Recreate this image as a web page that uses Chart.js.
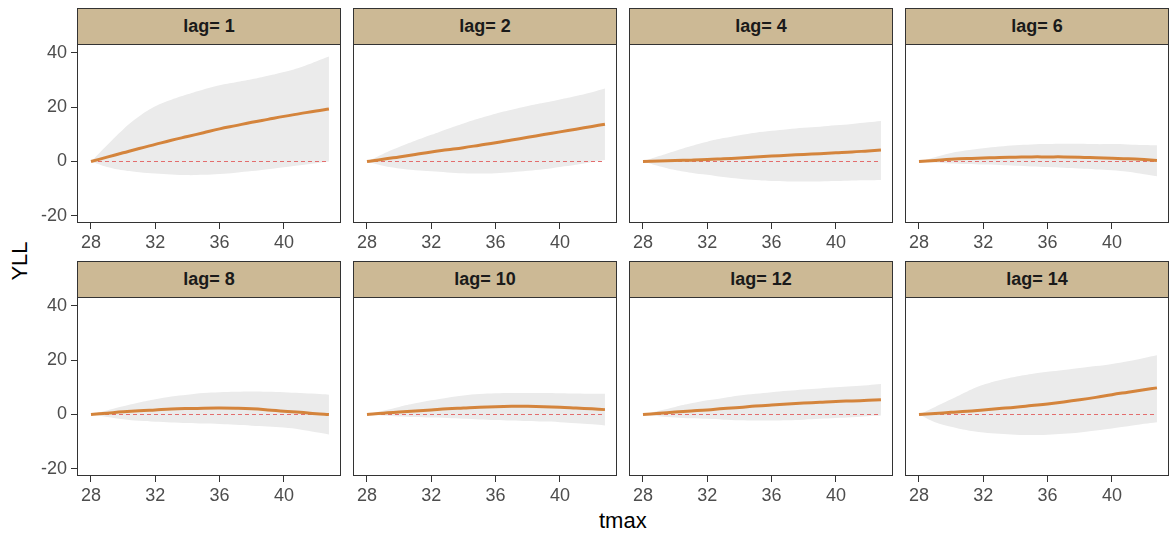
<!DOCTYPE html>
<html lang="en">
<head>
  <meta charset="UTF-8" />
  <title>YLL by tmax and lag</title>
  <script src="https://cdn.jsdelivr.net/npm/chart.js"></script>
  <style>
    * { box-sizing: border-box; }
    body {
      margin: 0;
      background: #fff;
      font-family: 'Liberation Sans', Arial, sans-serif;
    }
    #wrap { position: relative; width: 1171px; height: 538px; overflow: hidden; }
    .strip {
      position: absolute;
      background: #ccb995;
      border: 1px solid #333;
      color: #1a1a1a;
      font-weight: bold;
      font-size: 18px;
      display: flex;
      align-items: center;
      justify-content: center;
    }
    canvas { position: absolute; }
    .title { position: absolute; color: #000; font-size: 22px; white-space: nowrap; }
  </style>
</head>
<body>
  <div id="wrap">
    <div class="title" style="left:599px; top:508px;">tmax</div>
    <div class="title" style="left:20px; top:261px; transform: translate(-50%, -50%) rotate(-90deg);">YLL</div>
  </div>
  <script>
    // data
    const tmax = [28, 29, 30, 31, 32, 33, 34, 35, 36, 37, 38, 39, 40, 41, 42, 42.8];
    const lags = [1, 2, 4, 6, 8, 10, 12, 14];
    const xTicks = [28, 32, 36, 40];
    const yTicks = [-20, 0, 20, 40];
    const refLine = 0;

    const fitLag1 = [0, 1.6, 3.2, 4.8, 6.3, 7.8, 9.2, 10.6, 12.0, 13.2, 14.4, 15.5, 16.6, 17.6, 18.6, 19.3];
    const upperLag1 = [0, 6.0, 11.8, 16.6, 20.3, 22.7, 24.7, 26.5, 28.0, 29.1, 30.2, 31.5, 32.9, 34.6, 36.8, 38.6];
    const lowerLag1 = [0, -2.0, -3.2, -3.9, -4.4, -4.8, -5.0, -4.9, -4.6, -4.1, -3.5, -2.8, -2.1, -1.4, -0.6, 0];

    const fitLag2 = [0, 0.8, 1.7, 2.6, 3.5, 4.3, 5.1, 6.0, 6.9, 7.9, 8.9, 9.9, 10.9, 11.9, 12.9, 13.7];
    const upperLag2 = [0, 2.8, 5.3, 7.6, 9.8, 12.0, 14.0, 15.9, 17.6, 19.0, 20.4, 21.6, 22.8, 24.1, 25.5, 26.8];
    const lowerLag2 = [0, -1.6, -2.6, -3.2, -3.6, -4.0, -4.3, -4.4, -4.3, -3.9, -3.4, -2.8, -2.0, -1.2, -0.2, 0.6];

    const fitLag4 = [0, 0.15, 0.35, 0.5, 0.7, 1.0, 1.3, 1.65, 2.0, 2.3, 2.6, 2.9, 3.2, 3.5, 3.9, 4.2];
    const upperLag4 = [0, 2.0, 3.9, 5.7, 7.3, 8.6, 9.7, 10.6, 11.3, 11.9, 12.4, 12.8, 13.3, 13.8, 14.4, 14.9];
    const lowerLag4 = [0, -1.7, -3.1, -4.1, -4.9, -5.7, -6.3, -6.8, -7.2, -7.3, -7.3, -7.3, -7.2, -7.0, -6.9, -6.8];

    const fitLag6 = [0, 0.4, 0.8, 1.1, 1.3, 1.5, 1.6, 1.7, 1.7, 1.7, 1.6, 1.4, 1.2, 1.0, 0.7, 0.4];
    const upperLag6 = [0, 1.6, 3.1, 4.1, 4.9, 5.5, 6.0, 6.3, 6.4, 6.5, 6.5, 6.4, 6.4, 6.3, 6.1, 6.0];
    const lowerLag6 = [0, -0.4, -0.7, -0.9, -1.1, -1.3, -1.6, -1.8, -2.0, -2.3, -2.6, -2.9, -3.2, -3.8, -4.7, -5.4];

    const fitLag8 = [0, 0.5, 1.0, 1.4, 1.7, 2.0, 2.2, 2.35, 2.4, 2.3, 2.1, 1.7, 1.2, 0.8, 0.3, 0];
    const upperLag8 = [0, 1.5, 3.0, 4.4, 5.6, 6.6, 7.3, 7.9, 8.2, 8.4, 8.5, 8.4, 8.2, 7.9, 7.6, 7.3];
    const lowerLag8 = [0, -0.9, -1.7, -2.3, -2.7, -2.9, -3.1, -3.3, -3.5, -3.8, -4.1, -4.4, -4.8, -5.5, -6.5, -7.3];

    const fitLag10 = [0, 0.5, 0.9, 1.3, 1.7, 2.1, 2.4, 2.7, 2.9, 3.0, 3.0, 2.9, 2.7, 2.4, 2.1, 1.8];
    const upperLag10 = [0, 1.4, 2.8, 4.1, 5.2, 6.2, 7.0, 7.5, 7.8, 7.9, 7.9, 7.9, 7.8, 7.7, 7.6, 7.6];
    const lowerLag10 = [0, -0.4, -0.7, -0.9, -1.1, -1.3, -1.6, -1.8, -2.0, -2.2, -2.4, -2.6, -2.8, -3.2, -3.6, -4.0];

    const fitLag12 = [0, 0.45, 0.9, 1.3, 1.7, 2.2, 2.6, 3.1, 3.5, 3.85, 4.2, 4.5, 4.8, 5.0, 5.2, 5.4];
    const upperLag12 = [0, 1.4, 2.8, 4.1, 5.2, 6.1, 7.0, 7.6, 8.2, 8.7, 9.2, 9.6, 10.0, 10.4, 10.8, 11.2];
    const lowerLag12 = [0, -0.6, -1.1, -1.4, -1.6, -1.9, -2.1, -2.2, -2.2, -2.1, -1.9, -1.6, -1.3, -1.0, -0.6, -0.4];

    const fitLag14 = [0, 0.4, 0.8, 1.2, 1.7, 2.2, 2.7, 3.3, 3.9, 4.6, 5.4, 6.3, 7.3, 8.2, 9.1, 9.8];
    const upperLag14 = [0, 2.8, 5.6, 8.5, 10.9, 12.6, 13.9, 14.9, 15.7, 16.4, 17.1, 17.8, 18.6, 19.6, 20.8, 21.8];
    const lowerLag14 = [0, -2.8, -4.5, -5.8, -6.6, -7.1, -7.4, -7.5, -7.4, -7.1, -6.6, -5.9, -5.1, -4.3, -3.4, -2.8];

    const fits = [fitLag1, fitLag2, fitLag4, fitLag6, fitLag8, fitLag10, fitLag12, fitLag14];
    const uppers = [upperLag1, upperLag2, upperLag4, upperLag6, upperLag8, upperLag10, upperLag12, upperLag14];
    const lowers = [lowerLag1, lowerLag2, lowerLag4, lowerLag6, lowerLag8, lowerLag10, lowerLag12, lowerLag14];

    // panel geometry
    const colLeft = [77, 353, 629, 905];
    const rowTop = [8, 261];       // strip tops
    const panelW = 264, stripH = 37, plotH = 179;
    const yAxisW = 50, padTop = 15, padRight = 8, xAxisH = 40;
    const font = "'Liberation Sans', Arial, sans-serif";

    const frame = {
      id: 'frame',
      afterDraw(chart) {
        const a = chart.chartArea, ctx = chart.ctx;
        ctx.save();
        ctx.strokeStyle = '#333';
        ctx.lineWidth = 1;
        ctx.strokeRect(a.left + 0.5, a.top + 0.5, a.right - a.left - 1, a.bottom - a.top - 1);
        ctx.restore();
      }
    };

    const pts = arr => tmax.map((x, i) => ({ x: x, y: arr[i] }));
    const wrap = document.getElementById('wrap');

    lags.forEach((lag, i) => {
      const col = i % 4, row = Math.floor(i / 4);
      const left = colLeft[col], top = rowTop[row];
      const plotTop = top + stripH - 1;

      const strip = document.createElement('div');
      strip.className = 'strip';
      strip.style.cssText = `left:${left}px; top:${top}px; width:${panelW}px; height:${stripH}px;`;
      strip.textContent = 'lag= ' + lag;
      wrap.appendChild(strip);

      const cv = document.createElement('canvas');
      cv.width = yAxisW + panelW + padRight;
      cv.height = padTop + plotH + xAxisH;
      cv.style.left = (left - yAxisW) + 'px';
      cv.style.top = (plotTop - padTop) + 'px';
      wrap.appendChild(cv);

      new Chart(cv, {
        type: 'line',
        data: {
          datasets: [
            { data: pts(fits[i]), borderColor: '#d4843c', borderWidth: 3, pointRadius: 0,
              tension: 0.4, fill: false },
            { data: tmax.map(x => ({ x: x, y: refLine })), borderColor: '#e36d6d',
              borderWidth: 1.2, borderDash: [4, 3], pointRadius: 0, fill: false },
            { data: pts(lowers[i]), borderWidth: 0, borderColor: 'transparent', pointRadius: 0,
              tension: 0.4, fill: false },
            { data: pts(uppers[i]), borderWidth: 0, borderColor: 'transparent', pointRadius: 0,
              tension: 0.4, fill: '-1', backgroundColor: '#ebebeb' }
          ]
        },
        options: {
          responsive: false,
          animation: false,
          events: [],
          layout: { padding: { left: 0, top: padTop, right: padRight, bottom: 0 } },
          plugins: { legend: { display: false }, tooltip: { enabled: false } },
          scales: {
            x: {
              type: 'linear', min: 27.13, max: 43.55,
              afterBuildTicks: s => { s.ticks = xTicks.map(v => ({ value: v })); },
              afterFit: s => { s.height = xAxisH; },
              border: { display: false },
              grid: { color: 'transparent', tickColor: '#333', tickLength: 6, drawOnChartArea: false },
              ticks: { color: '#4d4d4d', padding: 3, font: { family: font, size: 18 } }
            },
            y: {
              type: 'linear', min: -22.6, max: 43.2,
              afterBuildTicks: s => { s.ticks = yTicks.map(v => ({ value: v })); },
              afterFit: s => { s.width = yAxisW; },
              border: { display: false },
              grid: { color: 'transparent', tickColor: '#333', tickLength: 6,
                      drawOnChartArea: false, drawTicks: col === 0 },
              ticks: { display: col === 0, color: '#4d4d4d', padding: 4, font: { family: font, size: 18 } }
            }
          }
        },
        plugins: [frame]
      });
    });
  </script>
</body>
</html>
